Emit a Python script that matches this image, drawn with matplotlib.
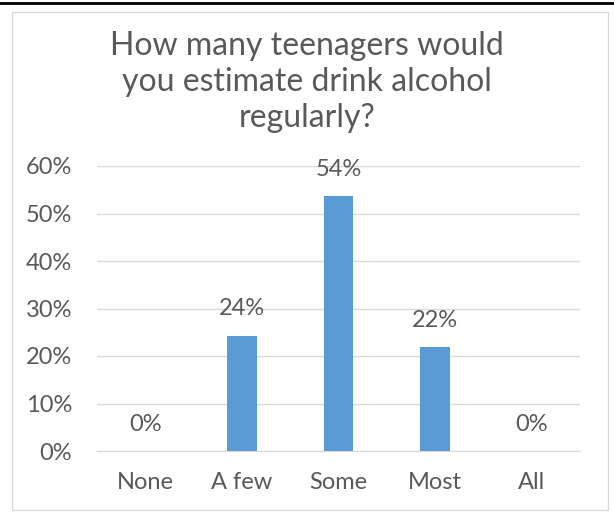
import matplotlib.pyplot as plt
from matplotlib.patches import Rectangle
from matplotlib.lines import Line2D
from matplotlib.ticker import MultipleLocator, PercentFormatter

# ========== データ ==========
categories = ['None', 'A few', 'Some', 'Most', 'All']
values = [0.0, 24.3, 53.6, 21.9, 0.0]
labels = ['0%', '24%', '54%', '22%', '0%']

BAR_COLOR = '#5B9BD5'
TEXT_COLOR = '#595959'
GRID_COLOR = '#D9D9D9'

plt.rcParams['font.family'] = ['Lato', 'DejaVu Sans']

fig = plt.figure(figsize=(6.14, 5.13), dpi=100)
fig.patch.set_facecolor('white')

# 外枠（チャート領域）と上端の黒線
fig.add_artist(Rectangle((12/614, 3/513), 596/614, 498/513, transform=fig.transFigure,
                         fill=False, edgecolor='#D9D9D9', linewidth=1.0))
fig.add_artist(Line2D([0, 1], [1 - 3/513, 1 - 3/513], transform=fig.transFigure,
                      color='black', linewidth=2.0))

ax = fig.add_axes([97/614, 1 - 451/513, 483/614, 285/513])
x = range(len(categories))
ax.bar(x, values, width=0.31, color=BAR_COLOR, zorder=3)

for xi, v, lab in zip(x, values, labels):
    ax.text(xi, v + 3.4, lab, ha='center', va='bottom', fontsize=17, color=TEXT_COLOR)

ax.set_xlim(-0.5, len(categories) - 0.5)
ax.set_ylim(0, 60)
ax.yaxis.set_major_locator(MultipleLocator(10))
ax.yaxis.set_major_formatter(PercentFormatter(decimals=0))
ax.set_xticks(list(x))
ax.set_xticklabels(categories)
ax.tick_params(axis='both', length=0, labelsize=17, labelcolor=TEXT_COLOR)
ax.tick_params(axis='x', pad=15)
ax.tick_params(axis='y', pad=18)
ax.grid(axis='y', color=GRID_COLOR, linewidth=1.0, zorder=0)
for s in ['top', 'right', 'left']:
    ax.spines[s].set_visible(False)
ax.spines['bottom'].set_color(GRID_COLOR)

fig.text(0.5, 1 - 82/513, 'How many teenagers would\nyou estimate drink alcohol\nregularly?',
         ha='center', va='center', fontsize=23, color=TEXT_COLOR, linespacing=1.26)

fig.savefig('out.png', dpi=100, facecolor='white')
